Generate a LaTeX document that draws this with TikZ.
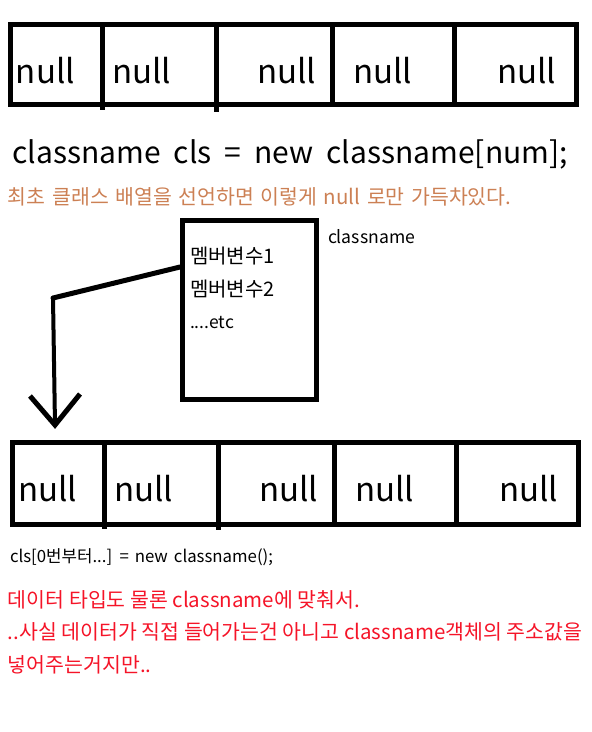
\documentclass[tikz,border=0pt]{standalone}
\usepackage{fontspec}
\setmainfont{Noto Sans CJK KR}
\definecolor{note}{RGB}{204,128,84}
\definecolor{rednote}{RGB}{245,20,40}
\begin{document}
\begin{tikzpicture}[x=1pt,y=-1pt,
  thickline/.style={line width=5pt},
  txt/.style={anchor=base west,inner sep=0pt,outer sep=0pt},
  nulltxt/.style={txt,font=\fontsize{33}{40}\selectfont},
  small/.style={txt,font=\fontsize{20}{24}\selectfont},
  korean/.style={txt,font=\fontsize{20.5}{24}\selectfont}]
\useasboundingbox (0,0) rectangle (592,732);
% top array
\draw[thickline] (10.5,24.5) rectangle (576.5,104.5);
\draw[thickline] (102.5,24.5) -- (102.5,110);
\draw[thickline] (216.5,24.5) -- (216.5,112);
\draw[thickline] (332.5,24.5) -- (332.5,104.5);
\draw[thickline] (454.5,24.5) -- (454.5,104.5);
\node[nulltxt] (t1) at (16,83) {null};
\node[nulltxt] (t2) at (112,83) {null};
\node[nulltxt] (t3) at (257,83) {null};
\node[nulltxt] (t4) at (353,83) {null};
\node[nulltxt] (t5) at (497,83) {null};
% declaration
\node[txt,font=\fontsize{30}{36}\selectfont] (decl) at (12.5,163) {\spaceskip=13pt\relax classname cls = new classname[num];};
\node[korean,text=note] (note1) at (8,204) {\spaceskip=6.6pt\relax 최초 클래스 배열을 선언하면 이렇게 null 로만 가득차있다.};
% class box
\node[draw,thickline,minimum width=134pt,minimum height=179pt,inner sep=0pt] (clsbox) at (249.5,310) {};
\node[txt,font=\fontsize{17.6}{22}\selectfont] (clsname) at (328,243) {classname};
\node[small] (m1) at (190,263) {멤버변수1};
\node[small] (m2) at (190,296) {멤버변수2};
\node[txt,font=\fontsize{17.5}{22}\selectfont] (etc) at (190,328) {....etc};
% arrow
\coordinate (bend) at (53,298);
\coordinate (tip) at (55,425);
\draw[thickline,line cap=round,line join=round] ([yshift=43pt]clsbox.west) -- (bend);
\draw[line width=4pt,line cap=round] (bend) -- (tip);
\draw[thickline,line join=miter] (tip) ++(-25,-29) -- (tip) -- ++(25,-31);
% bottom array
\draw[thickline] (12.5,442.5) rectangle (578.5,524.5);
\draw[thickline] (104.5,442.5) -- (104.5,529);
\draw[thickline] (218.5,442.5) -- (218.5,530);
\draw[thickline] (334.5,442.5) -- (334.5,524.5);
\draw[thickline] (456.5,442.5) -- (456.5,524.5);
\node[nulltxt] (b1) at (18,501) {null};
\node[nulltxt] (b2) at (114,501) {null};
\node[nulltxt] (b3) at (259,501) {null};
\node[nulltxt] (b4) at (355,501) {null};
\node[nulltxt] (b5) at (499,501) {null};
% assignment
\node[txt,font=\fontsize{16.8}{22}\selectfont] (assign) at (10,562) {\spaceskip=6pt\relax cls[0번부터...] = new classname();};
\node[korean,text=rednote] (r1) at (8,607) {데이터 타입도 물론 classname에 맞춰서.};
\node[korean,text=rednote] (r2) at (8,639.5) {..사실 데이터가 직접 들어가는건 아니고 classname객체의 주소값을};
\node[korean,text=rednote] (r3) at (8,672) {넣어주는거지만..};
\end{tikzpicture}
\end{document}
